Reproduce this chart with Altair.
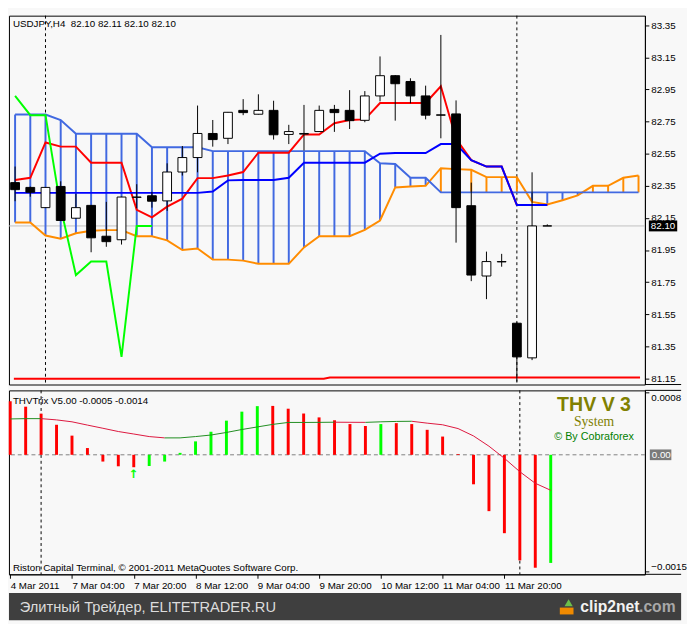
import altair as alt
import pandas as pd

# ---------------- values ----------------
# USDJPY H4 candles (bar index 0..35)
open_ = [82.370, 82.340, 82.214, 82.346, 82.148, 82.228, 82.036, 82.014, 82.278, 82.288,
         82.256, 82.436, 82.526, 82.676, 82.646, 82.820, 82.796, 82.820, 82.670, 82.672,
         82.688, 82.826, 82.820, 82.758, 82.910, 83.036, 83.000, 82.910, 82.792, 82.798,
         82.226, 81.788, 81.876, 81.494, 81.278, 82.100]
high = [82.470, 82.345, 82.342, 82.378, 82.300, 82.230, 82.250, 82.282, 82.360, 82.312,
        82.490, 82.598, 82.850, 82.760, 82.810, 82.890, 82.920, 82.880, 82.730, 82.854,
        82.850, 82.854, 82.946, 82.940, 83.156, 83.040, 83.020, 82.974, 83.290, 82.882,
        82.370, 81.940, 81.926, 81.500, 82.434, 82.110]
low = [82.254, 82.282, 82.212, 82.130, 82.146, 81.936, 81.970, 81.984, 82.210, 82.214,
       82.194, 82.414, 82.434, 82.594, 82.610, 82.790, 82.794, 82.638, 82.610, 82.570,
       82.686, 82.686, 82.704, 82.746, 82.876, 82.756, 82.864, 82.764, 82.646, 81.996,
       81.756, 81.644, 81.846, 81.130, 81.264, 82.100]
close = [82.326, 82.310, 82.340, 82.134, 82.214, 82.026, 82.002, 82.280, 82.280, 82.254,
         82.436, 82.526, 82.676, 82.638, 82.808, 82.806, 82.820, 82.668, 82.688, 82.676,
         82.820, 82.806, 82.756, 82.910, 83.036, 82.986, 82.910, 82.790, 82.790, 82.214,
         81.794, 81.878, 81.878, 81.284, 82.100, 82.100]

# Ichimoku
tenkan = [82.386, 82.400, 82.620, 82.594, 82.594, 82.494, 82.494, 82.494, 82.200, 82.154,
          82.220, 82.270, 82.398, 82.398, 82.414, 82.436, 82.556, 82.556, 82.556, 82.670,
          82.670, 82.740, 82.760, 82.764, 82.866, 82.866, 82.866, 82.866, 82.970, 82.642,
          82.510, 82.470, 82.470, 82.230, 82.230, 82.230]
kijun = [82.306, 82.306, 82.306, 82.306, 82.306, 82.306, 82.306, 82.306, 82.306, 82.306,
         82.306, 82.306, 82.306, 82.314, 82.384, 82.386, 82.386, 82.386, 82.400, 82.494,
         82.494, 82.494, 82.494, 82.494, 82.550, 82.554, 82.554, 82.554, 82.610, 82.610,
         82.510, 82.470, 82.470, 82.230, 82.230, 82.230]
span_a = [82.122, 82.122, 82.040, 82.020, 82.054, 82.070, 82.074, 82.074, 82.036, 82.036,
          82.010, 81.950, 81.960, 81.890, 81.890, 81.884, 81.864, 81.864, 81.864, 81.966,
          82.036, 82.036, 82.036, 82.076, 82.134, 82.340, 82.346, 82.350, 82.460, 82.454,
          82.450, 82.404, 82.404, 82.404, 82.250, 82.234, 82.260, 82.290, 82.350, 82.350,
          82.400, 82.414]
span_b = [82.794, 82.794, 82.794, 82.760, 82.674, 82.674, 82.674, 82.674, 82.674, 82.590,
          82.590, 82.590, 82.590, 82.566, 82.566, 82.566, 82.566, 82.566, 82.566, 82.566,
          82.566, 82.566, 82.566, 82.566, 82.490, 82.486, 82.400, 82.400, 82.309, 82.309,
          82.309, 82.309, 82.309, 82.309, 82.309, 82.309, 82.309, 82.309, 82.309, 82.309,
          82.309, 82.309]
chikou = [82.910, 82.790, 82.790, 82.214, 81.794, 81.878, 81.878, 81.284, 82.100, 82.100]

support_bar = [-0.08, 20.3, 20.7, 41.1]
support_price = [81.148, 81.148, 81.156, 81.156]

bid_price = [82.10]
separator_bars = [2, 33]
price_ticks = [83.35, 83.15, 82.95, 82.75, 82.55, 82.35, 82.15, 81.95, 81.75, 81.55, 81.35, 81.15]

# THVTrix sub-window
trix_hist = [0.00069, 0.00062, 0.00053, 0.000387, 0.000247, 0.000087, -0.000087, -0.000148, -0.00016, -0.000144,
             -0.000087, 0.000025, 0.000173, 0.000297, 0.00044, 0.000556, 0.000627, 0.00063, 0.000594, 0.000532,
             0.000482, 0.000445, 0.000396, 0.000371, 0.000396, 0.000408, 0.000396, 0.000322, 0.000235, 0.00001,
             -0.00038, -0.000726, -0.00101, -0.00136, -0.001455, -0.001393]
trix_dir = ["down"] * 9 + ["up"] * 8 + ["down"] * 7 + ["up"] + ["down"] * 10 + ["up"]
trix_signal = [0.000462, 0.000466, 0.000466, 0.000450, 0.000425, 0.000383, 0.000342, 0.000300, 0.000268, 0.000235,
               0.000218, 0.000218, 0.000235, 0.000255, 0.000288, 0.000326, 0.000359, 0.000392, 0.000417, 0.000417,
               0.000418, 0.000420, 0.000419, 0.000418, 0.000425, 0.000430, 0.000432, 0.000408, 0.000387, 0.000338,
               0.000243, 0.000111, -0.000045, -0.000218, -0.000367, -0.000457]
trix_ticks = [0.0008, -0.0015]
arrow_bar = [8]
arrow_value = [-0.00025]

time_tick_bars = [0, 4, 8, 12, 16, 20, 24, 28, 32]
time_tick_labels = ["4 Mar 2011", "7 Mar 04:00", "7 Mar 20:00", "8 Mar 12:00", "9 Mar 04:00",
                    "9 Mar 20:00", "10 Mar 12:00", "11 Mar 04:00", "11 Mar 20:00"]

header_text = "USDJPY,H4\u00a0\u00a082.10 82.11 82.10 82.10"
sub_header_text = "THVTrix V5.00 -0.0005 -0.0014"
copyright_text = "Riston Capital Terminal, \u00a9 2001-2011 MetaQuotes Software Corp."
logo_lines = ["THV V 3", "System", "\u00a9 By Cobraforex"]
banner_text = "Элитный Трейдер, ELITETRADER.RU"

# ---------------- layout / style ----------------
W, H1, H2, AX = 650, 377, 188, 37
FONT = "Liberation Sans"
BG = "#F8F8F8"
C_ORANGE, C_ROYAL = "#FF8C00", "#4169E1"
C_UP, C_DOWN = "#00FF00", "#FF0000"
C_SIG_UP, C_SIG_DOWN = "#1E8C1E", "#DC143C"

xs = alt.Scale(domain=[-0.08, 41.1], nice=False, zero=False)
ys1 = alt.Scale(domain=[81.112, 83.41], nice=False, zero=False)
ys2 = alt.Scale(domain=[-0.00154, 0.00083], nice=False, zero=False)

y1_axis = alt.Axis(orient="right", values=price_ticks, format=".2f", title=None, grid=False,
                   tickSize=4, tickColor="black", domainColor="black", labelColor="black",
                   labelFont=FONT, labelFontSize=10, labelPadding=2)
y2_axis = alt.Axis(orient="right", values=trix_ticks, format=".4f", title=None, grid=False,
                   tickSize=4, tickColor="black", domainColor="black", labelColor="black",
                   labelFont=FONT, labelFontSize=10, labelPadding=2, labelFlush=6)
label_expr = "[" + ",".join("'%s'" % s for s in time_tick_labels) + "][round(datum.value / 4)]"
x2_axis = alt.Axis(values=time_tick_bars, labelExpr=label_expr, title=None, grid=False,
                   tickSize=4, tickColor="black", domainColor="black", labelColor="black",
                   labelFont=FONT, labelFontSize=10, labelAlign="left", labelPadding=2,
                   labelFlush=False, labelOverlap=False)

X1 = alt.X("bar:Q", scale=xs, axis=None)
X2 = alt.X("bar:Q", scale=xs, axis=x2_axis)


def Y1(f):
    return alt.Y(f, scale=ys1, axis=y1_axis)


def Y2(f):
    return alt.Y(f, scale=ys2, axis=y2_axis)


# ---------------- tables ----------------
candles = pd.DataFrame(dict(bar=list(range(len(open_))), open=open_, high=high, low=low, close=close))
candles["fillc"] = ["white" if c >= o else "black" for o, c in zip(open_, close)]

cloud = pd.DataFrame(dict(bar=list(range(len(span_a))), a=span_a, b=span_b))
cloud["col"] = [C_ROYAL if b > a else C_ORANGE for a, b in zip(span_a, span_b)]

tk = pd.DataFrame(dict(bar=list(range(len(tenkan))), v=tenkan))
kj = pd.DataFrame(dict(bar=list(range(len(kijun))), v=kijun))
ck = pd.DataFrame(dict(bar=list(range(len(chikou))), v=chikou))
sup = pd.DataFrame(dict(idx=list(range(len(support_bar))), bar=support_bar, price=support_price))
seps = pd.DataFrame(dict(bar=separator_bars))
bid = pd.DataFrame(dict(price=bid_price))
bid["hi"] = bid["price"] + 0.034
bid["lo"] = bid["price"] - 0.034
one = pd.DataFrame(dict(k=[0]))

hist = pd.DataFrame(dict(bar=list(range(len(trix_hist))), v=trix_hist))
hist["col"] = [C_UP if d == "up" else C_DOWN for d in trix_dir]
seg = pd.DataFrame(dict(bar=list(range(len(trix_signal) - 1)),
                        bar2=list(range(1, len(trix_signal))),
                        v=trix_signal[:-1], v2=trix_signal[1:]))
seg["col"] = [C_SIG_UP if b >= a else C_SIG_DOWN for a, b in zip(trix_signal[:-1], trix_signal[1:])]
zero = pd.DataFrame(dict(v=[0.0], hi=[0.000069], lo=[-0.000069]))
arrows = pd.DataFrame(dict(bar=arrow_bar, v=arrow_value))

# ---------------- top panel ----------------
top = alt.layer(
    alt.Chart(seps).mark_rule(color="black", strokeDash=[3, 3], strokeWidth=1).encode(x=X1),
    alt.Chart(bid).mark_rule(color="#C0C0C0", strokeWidth=1).encode(y=Y1("price:Q")),
    alt.Chart(sup).mark_line(color="#FF0000", strokeWidth=2).encode(x=X1, y=Y1("price:Q"), order="idx:Q"),
    alt.Chart(cloud).mark_rule(strokeWidth=2).encode(
        x=X1, y=Y1("a:Q"), y2="b:Q", color=alt.Color("col:N", scale=None)),
    alt.Chart(cloud).mark_line(color=C_ORANGE, strokeWidth=2).encode(x=X1, y=Y1("a:Q")),
    alt.Chart(cloud).mark_line(color=C_ROYAL, strokeWidth=2).encode(x=X1, y=Y1("b:Q")),
    alt.Chart(tk).mark_line(color="#FF0000", strokeWidth=2).encode(x=X1, y=Y1("v:Q")),
    alt.Chart(kj).mark_line(color="#0000FF", strokeWidth=2).encode(x=X1, y=Y1("v:Q")),
    alt.Chart(ck).mark_line(color="#00FF00", strokeWidth=2).encode(x=X1, y=Y1("v:Q")),
    alt.Chart(candles).mark_rule(color="black", strokeWidth=1).encode(x=X1, y=Y1("low:Q"), y2="high:Q"),
    alt.Chart(candles).mark_bar(size=9, stroke="black", strokeWidth=1).encode(
        x=X1, y=Y1("open:Q"), y2="close:Q", fill=alt.Fill("fillc:N", scale=None)),
    alt.Chart(bid).mark_rect(color="black").encode(x=alt.value(W + 4), x2=alt.value(W + 33),
                                                   y=Y1("hi:Q"), y2="lo:Q"),
    alt.Chart(bid).mark_text(align="left", baseline="middle", color="white", font=FONT, fontSize=10).encode(
        x=alt.value(W + 6), y=Y1("price:Q"), text=alt.Text("price:Q", format=".2f")),
    alt.Chart(pd.DataFrame(dict(t=[header_text]))).mark_text(
        align="left", baseline="middle", color="black", font=FONT, fontSize=10).encode(
        x=alt.value(4), y=alt.value(9), text="t:N"),
    alt.Chart(one).mark_rule(color="black").encode(x=alt.value(W), x2=alt.value(W + AX), y=alt.value(H1)),
).properties(width=W, height=H1)

# ---------------- THVTrix panel ----------------
bottom = alt.layer(
    alt.Chart(seps).mark_rule(color="black", strokeDash=[3, 3], strokeWidth=1).encode(x=X2),
    alt.Chart(zero).mark_rule(color="#808080", strokeDash=[4, 3], strokeWidth=1).encode(y=Y2("v:Q")),
    alt.Chart(hist).mark_rule(strokeWidth=3).encode(
        x=X2, y=Y2("v:Q"), y2=alt.datum(0), color=alt.Color("col:N", scale=None)),
    alt.Chart(seg).mark_rule(strokeWidth=1).encode(
        x=X2, x2="bar2:Q", y=Y2("v:Q"), y2="v2:Q", color=alt.Color("col:N", scale=None)),
    alt.Chart(arrows).mark_text(text="\u2191", color="#00FF00", font="DejaVu Sans", fontSize=12,
                                fontWeight="bold", baseline="middle").encode(x=X2, y=Y2("v:Q")),
    alt.Chart(zero).mark_rect(color="#7A7A7A").encode(x=alt.value(W + 5), x2=alt.value(W + 27),
                                                     y=Y2("hi:Q"), y2="lo:Q"),
    alt.Chart(zero).mark_text(align="left", baseline="middle", color="white", font=FONT, fontSize=10).encode(
        x=alt.value(W + 7), y=Y2("v:Q"), text=alt.Text("v:Q", format=".2f")),
    alt.Chart(pd.DataFrame(dict(t=[sub_header_text]))).mark_text(
        align="left", baseline="middle", color="black", font=FONT, fontSize=10).encode(
        x=alt.value(4), y=alt.value(11), text="t:N"),
    alt.Chart(pd.DataFrame(dict(t=[copyright_text]))).mark_text(
        align="left", baseline="middle", color="black", font=FONT, fontSize=10).encode(
        x=alt.value(4), y=alt.value(H2 - 6), text="t:N"),
    alt.Chart(pd.DataFrame(dict(t=[logo_lines[0]]))).mark_text(
        align="center", baseline="middle", color="#808000", font=FONT, fontSize=20, fontWeight="bold").encode(
        x=alt.value(598), y=alt.value(15), text="t:N"),
    alt.Chart(pd.DataFrame(dict(t=[logo_lines[1]]))).mark_text(
        align="center", baseline="middle", color="#808000", font="Liberation Serif", fontSize=14).encode(
        x=alt.value(598), y=alt.value(32), text="t:N"),
    alt.Chart(pd.DataFrame(dict(t=[logo_lines[2]]))).mark_text(
        align="center", baseline="middle", color="#008000", font=FONT, fontSize=11).encode(
        x=alt.value(598), y=alt.value(48), text="t:N"),
    alt.Chart(one).mark_rule(color="black").encode(x=alt.value(W), x2=alt.value(W + AX), y=alt.value(0)),
    alt.Chart(one).mark_rule(color="black").encode(x=alt.value(W), x2=alt.value(W + AX), y=alt.value(H2)),
).properties(width=W, height=H2)

# ---------------- banner ----------------
banner = alt.layer(
    alt.Chart(pd.DataFrame(dict(t=[banner_text]))).mark_text(
        align="left", baseline="middle", color="#DCDCDC", font=FONT, fontSize=15).encode(
        x=alt.value(11), y=alt.value(14), text="t:N"),
    alt.Chart(one).mark_rect(color="#F08A00").encode(x=alt.value(563), x2=alt.value(577),
                                                     y=alt.value(15), y2=alt.value(22)),
    alt.Chart(one).mark_point(shape="triangle-up", filled=True, color="#6CC04A", size=70, opacity=1).encode(
        x=alt.value(572), y=alt.value(10)),
    alt.Chart(pd.DataFrame(dict(t=["clip2net"]))).mark_text(
        align="left", baseline="middle", color="#F2F2F2", font=FONT, fontSize=16, fontWeight="bold").encode(
        x=alt.value(584), y=alt.value(14), text="t:N"),
    alt.Chart(pd.DataFrame(dict(t=[".com"]))).mark_text(
        align="left", baseline="middle", color="#A8A8A8", font=FONT, fontSize=16, fontWeight="bold").encode(
        x=alt.value(644), y=alt.value(14), text="t:N"),
).properties(width=W + AX, height=28, view=alt.ViewBackground(fill="#3F3F3F", stroke=None))

chart = alt.vconcat(
    alt.vconcat(top, bottom, spacing=4),
    banner,
    spacing=2,
).properties(padding=0, background=BG).configure_view(stroke="black", strokeWidth=1, fill=BG)

chart.save("out.html", embed_options={"renderer": "svg", "actions": False})
